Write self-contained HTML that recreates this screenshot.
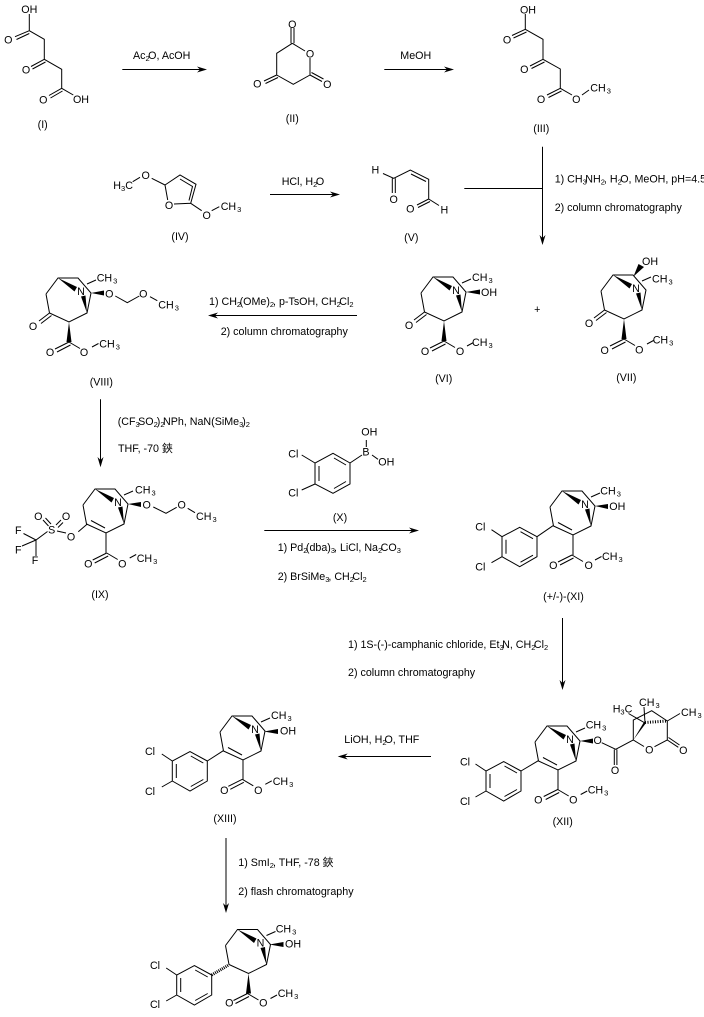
<!DOCTYPE html>
<html><head><meta charset="utf-8">
<style>
html,body{margin:0;padding:0;background:#fff}
svg{display:block}
text{font-family:"Liberation Sans","Noto Sans CJK SC",sans-serif;font-size:10.7px;fill:#000}
.s{font-size:7.5px}
.m{text-anchor:middle}
path,line{fill:none;stroke:#000;stroke-width:1}
polygon{fill:#000;stroke:none}
</style></head><body>
<svg xmlns="http://www.w3.org/2000/svg" width="704" height="1017" viewBox="0 0 704 1017">
<defs>
<g id="c"><path d="M-12,16 L0,0 L20,0 L33,15 L29,35 L11,44 L-8.5,35 L-12,16 M29,6 L38,2"/><polygon points="0,0 19,9 16.5,13.5"/><polygon points="29,35 23,18.5 27.5,17.5"/></g>
<g id="k"><path d="M-8.5,35 L-19,43 M-6.5,37.5 L-17,45.5"/></g>
<g id="w"><polygon points="11,44 8.5,64 13.5,64"/></g>
<g id="d"><path d="M-4,31.5 L10,39 M11,44 L11,64"/></g>
<g id="e"><path d="M0,0 L-14,7 M1.5,3 L-12,10 M0,0 L11,6.5 M23,5 L29.5,1.5"/></g>
<g id="ar"><path d="M0,0 L-17.3,-9.4 L-35,0 L-35,20 L-17.3,30 L0,20 Z M-16.5,-5 L-4,2 M-31,3 L-31,17 M-16.5,25.5 L-4,18.5 M-45.5,-7 L-35,0 M-45.5,26 L-35,20"/></g>
</defs>
<rect width="704" height="1017" fill="#fff"/>

<!-- I -->
<path d="M29.3,14 L29.3,30.7 L44.3,39.3 L44.3,59.3 L61.7,69.3 L61.7,88.3 L73.3,95 M29.3,30.7 L15,36.7 M29.3,33.5 L16.5,39.5 M44.3,59.3 L31,66.5 M45.5,62 L32.5,69 M61.7,88.3 L49,95.5 M62.5,91 L50.5,98"/>
<text x="29.3" y="13" class="m">OH</text><text x="8.3" y="43.3" class="m">O</text><text x="26" y="73.3" class="m">O</text><text x="43.3" y="103.3" class="m">O</text><text x="81" y="103" class="m">OH</text>
<text x="42.7" y="128" class="m">(I)</text>

<!-- arrow 1 -->
<line x1="122.3" y1="69.5" x2="205" y2="69.5"/><polygon points="207,69.5 197,66.5 200,69.5 197,72.5"/>
<text x="133" y="59">Ac<tspan class="s" dy="2">2</tspan><tspan dy="-2" dx="-1.5">O, AcOH</tspan></text>

<!-- II -->
<path d="M291,28 L291,43.3 M294,28 L294,43.3 M292.3,43.3 L305,51 M310,58 L310,75 L293.3,84.3 L276.7,75 L276.7,53.3 L292.3,43.3 M310,75 L322,81.5 M311.5,72.5 L323.5,79 M276.7,75 L264,81 M278,77.5 L265.5,83.5"/>
<text x="292.3" y="28" class="m">O</text><text x="310" y="57.3" class="m">O</text><text x="327.3" y="88" class="m">O</text><text x="257.3" y="87.3" class="m">O</text>
<text x="292.3" y="122" class="m">(II)</text>

<!-- arrow MeOH -->
<line x1="384.3" y1="69.5" x2="452" y2="69.5"/><polygon points="454,69.5 444,66.5 447,69.5 444,72.5"/>
<text x="400.3" y="59">MeOH</text>

<!-- III -->
<path d="M525.3,14 L525.3,29.3 L543,39.3 L543,59.3 L560.3,69 L560.3,88.3 L572,95 M582,95 L589,90 M525.3,29.3 L512,35.5 M526.5,32 L513.5,38 M543,59.3 L530,66 M544.5,62 L531.5,68.5 M560.3,88.3 L547,95 M561.5,91 L548.5,97.5"/>
<text x="528" y="13.3" class="m">OH</text><text x="507" y="43.3" class="m">O</text><text x="524.3" y="73" class="m">O</text><text x="541" y="103" class="m">O</text><text x="576.3" y="103" class="m">O</text>
<text x="590.3" y="91.7">CH<tspan class="s" dy="2" dx="1">3</tspan></text>
<text x="541.3" y="132" class="m">(III)</text>

<!-- IV -->
<path d="M132.7,181.7 L140,177.3 M151.7,178.3 L165,185 L167.7,200 M174,204 L190.7,203.3 L196,184.3 L180,175 L165,185 M189,200.5 L192.5,186.5 L180,179 M190.7,203.3 L201.7,210.7 M211.7,210.7 L219.3,206.7"/>
<text x="113.3" y="189">H<tspan class="s" dy="2">3</tspan><tspan dy="-2">C</tspan></text>
<text x="145.7" y="179" class="m">O</text><text x="169" y="209" class="m">O</text><text x="206.7" y="219" class="m">O</text>
<text x="220.7" y="210">CH<tspan class="s" dy="2" dx="1">3</tspan></text>
<text x="180" y="240" class="m">(IV)</text>

<!-- arrow 2 -->
<line x1="270" y1="194.5" x2="338" y2="194.5"/><polygon points="340,194.5 330,191.5 333,194.5 330,197.5"/>
<text x="281.7" y="185">HCl, H<tspan class="s" dy="2">2</tspan><tspan dy="-2" dx="-1.5">O</tspan></text>

<!-- V -->
<path d="M383,173.5 L393.7,178.3 L410.3,170 L428.7,179.3 L428.7,199 L439,205.5 M392.3,178.3 L392.3,193 M395.3,178.3 L395.3,193 M411,174 L426,181.5 M428.7,199 L417,205 M430,201.5 L418,207.5"/>
<text x="375.3" y="173.3" class="m">H</text><text x="393.7" y="203" class="m">O</text><text x="410.3" y="212.3" class="m">O</text><text x="444.3" y="213.3" class="m">H</text>
<text x="411.3" y="241" class="m">(V)</text>

<!-- T arrow -->
<line x1="464.3" y1="188.5" x2="542" y2="188.5"/><line x1="542.5" y1="146.7" x2="542.5" y2="243"/><polygon points="542.5,245 539.5,235 542.5,238 545.5,235"/>
<text x="554.7" y="182.7">1) CH<tspan class="s" dy="2">3</tspan><tspan dy="-2" dx="-1.5">NH</tspan><tspan class="s" dy="2">2</tspan><tspan dy="-2" dx="-1">, H</tspan><tspan class="s" dy="2">2</tspan><tspan dy="-2" dx="-1.5">O, MeOH, pH=4.5</tspan></text>
<text x="554.7" y="211">2) column chromatography</text>

<!-- VI -->
<g transform="translate(433,277)"><use href="#c"/><use href="#k"/><use href="#w"/><polygon points="33,15 47,12.5 47,17.5"/><use href="#e" x="11" y="64"/>
<text x="23" y="17" class="m">N</text><text x="-24" y="52" class="m">O</text><text x="-8" y="78" class="m">O</text><text x="27" y="78" class="m">O</text>
<text x="39" y="4">CH<tspan class="s" dy="2" dx="1">3</tspan></text><text x="48" y="19">OH</text><text x="39" y="69">CH<tspan class="s" dy="2" dx="1">3</tspan></text></g>
<text x="443.7" y="382" class="m">(VI)</text>

<text x="537.3" y="313" class="m">+</text>

<!-- VII -->
<g transform="translate(613,275)"><use href="#c"/><use href="#k"/><use href="#w"/><polygon points="20.5,1.5 25.5,-11 31,-8"/><use href="#e" x="11" y="64"/>
<text x="23" y="17" class="m">N</text><text x="-24" y="52" class="m">O</text><text x="-8.3" y="79" class="m">O</text><text x="26.3" y="78.3" class="m">O</text>
<text x="39" y="7.7">CH<tspan class="s" dy="2" dx="1">3</tspan></text><text x="29" y="-10">OH</text><text x="39.7" y="68.5">CH<tspan class="s" dy="2" dx="1">3</tspan></text></g>
<text x="626.3" y="381" class="m">(VII)</text>

<!-- arrow left -->
<line x1="210" y1="315.5" x2="357" y2="315.5"/><polygon points="208,315.5 218,312.5 215,315.5 218,318.5"/>
<text x="209" y="305">1) CH<tspan class="s" dy="2">2</tspan><tspan dy="-2" dx="-1.5">(OMe)</tspan><tspan class="s" dy="2">2</tspan><tspan dy="-2" dx="-1">, p-TsOH, CH</tspan><tspan class="s" dy="2">2</tspan><tspan dy="-2" dx="-1.5">Cl</tspan><tspan class="s" dy="2">2</tspan></text>
<text x="220.7" y="335">2) column chromatography</text>

<!-- VIII -->
<g transform="translate(58,278)"><use href="#c"/><use href="#k"/><use href="#w"/><polygon points="33,15 46,12.5 46,17.5"/><use href="#e" x="11" y="64"/>
<path d="M57.3,18 L69.3,24.7 L81.3,18 M92,18.7 L99.3,22.7"/>
<text x="23" y="17" class="m">N</text><text x="-25" y="52" class="m">O</text><text x="-8" y="78" class="m">O</text><text x="26" y="78" class="m">O</text><text x="51.3" y="19.3" class="m">O</text><text x="85.3" y="19.3" class="m">O</text>
<text x="38.7" y="3.3">CH<tspan class="s" dy="2" dx="1">3</tspan></text><text x="100.3" y="30.3">CH<tspan class="s" dy="2" dx="1">3</tspan></text><text x="41.3" y="69.3">CH<tspan class="s" dy="2" dx="1">3</tspan></text></g>
<text x="101.3" y="385.7" class="m">(VIII)</text>

<!-- arrow down VIII to IX -->
<line x1="100.5" y1="399.3" x2="100.5" y2="465"/><polygon points="100.5,467.3 97.5,457 100.5,460 103.5,457"/>
<text x="117.7" y="425">(CF<tspan class="s" dy="2">3</tspan><tspan dy="-2" dx="-1.5">SO</tspan><tspan class="s" dy="2">2</tspan><tspan dy="-2" dx="-1">)</tspan><tspan class="s" dy="2">2</tspan><tspan dy="-2" dx="-1.5">NPh, NaN(SiMe</tspan><tspan class="s" dy="2">3</tspan><tspan dy="-2" dx="-1">)</tspan><tspan class="s" dy="2">2</tspan></text>
<text x="118" y="452">THF, -70 鋏</text>

<!-- IX -->
<g transform="translate(95,489)"><use href="#c"/><use href="#d"/><polygon points="33,15 46,13 46,18"/><use href="#e" x="11.7" y="64"/>
<text x="23" y="17" class="m">N</text><text x="51.7" y="19.3" class="m">O</text><text x="-6.7" y="78.3" class="m">O</text><text x="27.3" y="78.3" class="m">O</text>
<text x="40" y="4.3">CH<tspan class="s" dy="2" dx="1">3</tspan></text><text x="41.7" y="73">CH<tspan class="s" dy="2" dx="1">3</tspan></text></g>
<path d="M153.3,507 L166,513.3 L176.7,507.3 M187.7,508.3 L195,512.7 M87.3,524 L78.3,531.7 M66,533 L57,531 M47.5,531.5 L36,540 L23.5,533.5 M36,540 L22,546 M36,540 L36,556 M43,520 L48.5,526 M45.5,518 L51,524 M56,525 L61,520 M58,527.5 L63,522.5"/>
<text x="71" y="540.7" class="m">O</text><text x="51.7" y="533.3" class="m">S</text><text x="38.3" y="520" class="m">O</text><text x="66" y="520" class="m">O</text>
<text x="18.3" y="534" class="m">F</text><text x="18.3" y="553.3" class="m">F</text><text x="35" y="564" class="m">F</text>
<text x="181.7" y="508.3" class="m">O</text><text x="196" y="520">CH<tspan class="s" dy="2" dx="1">3</tspan></text>
<text x="100" y="598" class="m">(IX)</text>

<!-- X -->
<path d="M333,453.3 L350,463 L350,484 L333,493.3 L315,484 L315,463 Z M334,458 L346,465 M319,466 L319,481 M334,488.5 L346,481.5 M301.7,455 L315,463 M301.7,490 L315,484 M350,463 L362,455 M366.3,440 L366.3,447 M372,455 L378,459.3"/>
<text x="293.3" y="457.3" class="m">Cl</text><text x="293.3" y="496.7" class="m">Cl</text><text x="366" y="455.7" class="m">B</text><text x="369.3" y="435.7" class="m">OH</text><text x="386.3" y="465.7" class="m">OH</text>
<text x="340" y="521" class="m">(X)</text>

<!-- arrow X -->
<line x1="264.3" y1="530.5" x2="417" y2="530.5"/><polygon points="419,530.5 409,527.5 412,530.5 409,533.5"/>
<text x="277.7" y="551">1) Pd<tspan class="s" dy="2">2</tspan><tspan dy="-2" dx="-1.5">(dba)</tspan><tspan class="s" dy="2">3</tspan><tspan dy="-2" dx="-1">, LiCl, Na</tspan><tspan class="s" dy="2">2</tspan><tspan dy="-2" dx="-1.5">CO</tspan><tspan class="s" dy="2">3</tspan></text>
<text x="277.7" y="580">2) BrSiMe<tspan class="s" dy="2">3</tspan><tspan dy="-2" dx="-1">, CH</tspan><tspan class="s" dy="2">2</tspan><tspan dy="-2" dx="-1.5">Cl</tspan><tspan class="s" dy="2">2</tspan></text>

<!-- XI -->
<g transform="translate(562,491)"><use href="#c"/><use href="#d"/><polygon points="33,15 46,13 46,18"/><use href="#e" x="10" y="64"/>
<text x="23" y="17" class="m">N</text><text x="-8.7" y="78" class="m">O</text><text x="26.7" y="78" class="m">O</text>
<text x="38.3" y="3.3">CH<tspan class="s" dy="2" dx="1">3</tspan></text><text x="47.3" y="19">OH</text><text x="40" y="69">CH<tspan class="s" dy="2" dx="1">3</tspan></text></g>
<g transform="translate(537,536.7)"><use href="#ar"/><line x1="0" y1="0" x2="16" y2="-11"/><text x="-56.7" y="-6" class="m">Cl</text><text x="-56.7" y="34" class="m">Cl</text></g>
<text x="563.5" y="600" class="m">(+/-)-(XI)</text>

<!-- arrow XI to XII -->
<line x1="562.5" y1="618" x2="562.5" y2="688"/><polygon points="562.5,690 559.5,680 562.5,683 565.5,680"/>
<text x="348" y="648">1) 1S-(-)-camphanic chloride, Et<tspan class="s" dy="2">3</tspan><tspan dy="-2" dx="-1.5">N, CH</tspan><tspan class="s" dy="2">2</tspan><tspan dy="-2" dx="-1.5">Cl</tspan><tspan class="s" dy="2">2</tspan></text>
<text x="348" y="676">2) column chromatography</text>

<!-- XII -->
<g transform="translate(547,726)"><use href="#c"/><use href="#d"/><polygon points="33,15 46,12.5 46,17.5"/><use href="#e" x="10.7" y="63.5"/>
<text x="23" y="17" class="m">N</text><text x="-8.7" y="77.3" class="m">O</text><text x="26.3" y="77.3" class="m">O</text>
<text x="38.7" y="2.3">CH<tspan class="s" dy="2" dx="1">3</tspan></text><text x="40.7" y="67.3">CH<tspan class="s" dy="2" dx="1">3</tspan></text></g>
<g transform="translate(521,771)"><use href="#ar"/><line x1="0" y1="0" x2="17.3" y2="-10.3"/><text x="-56" y="-5.3" class="m">Cl</text><text x="-56" y="34" class="m">Cl</text></g>
<text x="597.7" y="744" class="m">O</text>
<path d="M601.7,742.7 L615.7,749.3 L633.3,740 L633.3,720 L651.7,710.7 L667.3,721 L667.3,740 L654.5,746.7 M633.3,740 L644,746.5 M614.3,749.5 L614.3,765 M616.9,749.5 L616.9,765 M667.3,740 L678.3,747.3 M668.5,737.5 L679.5,745 M667.3,721 L680,713.5 M645,723 L644,707 M645,723 L628.5,713.5"/>
<polygon points="633.3,740 646,723 644,722"/>
<line x1="645" y1="722.5" x2="667" y2="721" style="stroke-width:3;stroke-dasharray:1 1.5"/>
<text x="649.3" y="753.3" class="m">O</text><text x="683.3" y="754" class="m">O</text><text x="615" y="774" class="m">O</text>
<text x="612.7" y="712.7">H<tspan class="s" dy="2">3</tspan><tspan dy="-2">C</tspan></text>
<text x="639" y="706">CH<tspan class="s" dy="2" dx="1">3</tspan></text><text x="681" y="716">CH<tspan class="s" dy="2" dx="1">3</tspan></text>
<text x="562.7" y="825" class="m">(XII)</text>

<!-- arrow XII to XIII -->
<line x1="340" y1="756.5" x2="431" y2="756.5"/><polygon points="337.7,756.5 347.7,753.5 344.7,756.5 347.7,759.5"/>
<text x="344.3" y="743">LiOH, H<tspan class="s" dy="2">2</tspan><tspan dy="-2" dx="-2">O, THF</tspan></text>

<!-- XIII -->
<g transform="translate(232,716)"><use href="#c"/><use href="#d"/><polygon points="32,15.5 46,13 46,18"/><use href="#e" x="10.3" y="63.3"/>
<text x="23" y="17" class="m">N</text><text x="-7.7" y="78" class="m">O</text><text x="26.3" y="78" class="m">O</text>
<text x="39" y="3">CH<tspan class="s" dy="2" dx="1">3</tspan></text><text x="48" y="18.7">OH</text><text x="40.7" y="69">CH<tspan class="s" dy="2" dx="1">3</tspan></text></g>
<g transform="translate(207.3,761)"><use href="#ar"/><line x1="0" y1="0" x2="16" y2="-10.3"/><text x="-57.3" y="-6" class="m">Cl</text><text x="-57.3" y="34" class="m">Cl</text></g>
<text x="225" y="822" class="m">(XIII)</text>

<!-- arrow XIII to XIV -->
<line x1="226" y1="838" x2="226" y2="911"/><polygon points="226,913 223,903 226,906 229,903"/>
<text x="238.3" y="866">1) SmI<tspan class="s" dy="2">2</tspan><tspan dy="-2" dx="-1">, THF, -78 鋏</tspan></text>
<text x="238.3" y="895">2) flash chromatography</text>

<!-- XIV -->
<g transform="translate(237.5,929.5)"><use href="#c"/><use href="#w"/><polygon points="32,15 46,12.5 46,17.5"/><use href="#e" x="10" y="64"/>
<text x="23" y="17" class="m">N</text><text x="-8.2" y="77" class="m">O</text><text x="25.8" y="77" class="m">O</text>
<text x="38.2" y="3.2">CH<tspan class="s" dy="2" dx="1">3</tspan></text><text x="47.5" y="18.2">OH</text><text x="40.2" y="67.5">CH<tspan class="s" dy="2" dx="1">3</tspan></text></g>
<g transform="translate(211.7,975)"><use href="#ar"/><line x1="0" y1="0" x2="17" y2="-10" style="stroke-width:3;stroke-dasharray:1 1"/><text x="-56.7" y="-6" class="m">Cl</text><text x="-56.7" y="33" class="m">Cl</text></g>
</svg>
</body></html>
